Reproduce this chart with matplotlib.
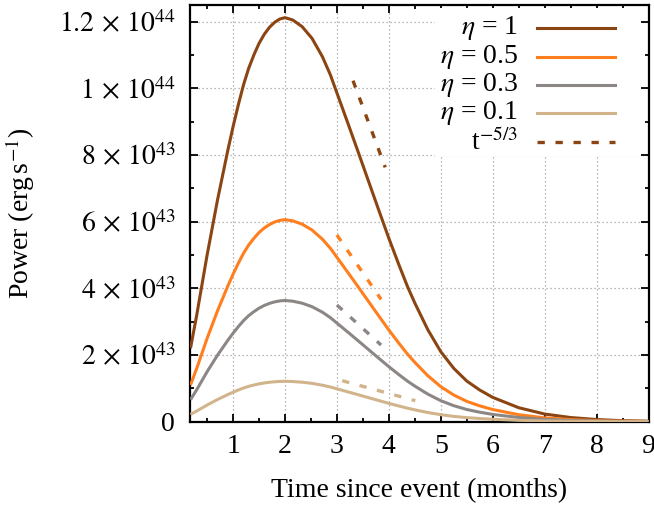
import matplotlib
matplotlib.use("Agg")
import matplotlib.pyplot as plt
from matplotlib.ticker import MultipleLocator, FixedLocator
from matplotlib.patches import Rectangle
from matplotlib.lines import Line2D

# ---- data ----
# time (months) and power for eta = 1 (erg/s)
time_months = [0.18, 0.3, 0.5, 0.7, 0.9, 1.0, 1.1, 1.2, 1.3, 1.4, 1.5, 1.6, 1.7, 1.8,
               1.9, 2.0, 2.15, 2.33, 2.52, 2.72, 2.875, 3.0, 3.2, 3.4, 3.6, 3.8, 4.0,
               4.2, 4.36, 4.5, 4.75, 5.0, 5.25, 5.5, 5.75, 6.0, 6.5, 7.0, 7.5, 8.0,
               8.5, 9.0]
power_eta1 = [2.2e43, 3.2e43, 5.0e43, 6.65e43, 8.15e43, 8.85e43, 9.5e43, 1.01e44,
              1.06e44, 1.10e44, 1.135e44, 1.162e44, 1.183e44, 1.198e44, 1.208e44,
              1.212e44, 1.205e44, 1.185e44, 1.15e44, 1.095e44, 1.04e44, 9.86e43,
              9.0e43, 8.13e43, 7.25e43, 6.37e43, 5.5e43, 4.68e43, 4.05e43, 3.56e43,
              2.76e43, 2.1e43, 1.6e43, 1.22e43, 0.95e43, 0.73e43, 0.42e43, 0.23e43,
              0.125e43, 0.065e43, 0.03e43, 0.015e43]
etas = [1, 0.5, 0.3, 0.1]
eta_labels = [r'$\eta$ = 1', r'$\eta$ = 0.5', r'$\eta$ = 0.3', r'$\eta$ = 0.1']
colors = ['#8b4513', '#ff7f1e', '#8c8784', '#d2b48c']

# t^{-5/3} guide segments (start/end points)
guide_t = [[3.31, 3.93], [3.0, 3.85], [3.0, 3.85], [3.10, 4.51]]
guide_p = [[1.023e44, 7.63e43], [5.6e43, 3.67e43], [3.5e43, 2.3e43], [1.23e43, 0.63e43]]
guide_label = r't$^{-5/3}$'

yticks = [0, 2e43, 4e43, 6e43, 8e43, 1e44, 1.2e44]
ytick_labels = ['0', r'$2\,\times\,10^{43}$', r'$4\,\times\,10^{43}$',
                r'$6\,\times\,10^{43}$', r'$8\,\times\,10^{43}$',
                r'$1\,\times\,10^{44}$', r'$1.2\,\times\,10^{44}$']
xticks = [1, 2, 3, 4, 5, 6, 7, 8, 9]

plt.rcParams['font.family'] = ['Liberation Serif', 'DejaVu Serif']
plt.rcParams['mathtext.fontset'] = 'stix'
FS = 20
DASH = (2.2, 3.2)

fig = plt.figure(figsize=(6.54, 5.08), dpi=100)
ax = fig.add_axes([190.5 / 654, 1 - 421.7 / 508, 458 / 654, 416.7 / 508])

for eta, col in zip(etas, colors):
    ax.plot(time_months, [eta * p for p in power_eta1], color=col, lw=2.2,
            solid_capstyle='butt', solid_joinstyle='round', zorder=3)
for t, p, col in zip(guide_t, guide_p, colors):
    ax.plot(t, p, color=col, lw=2.4, dashes=DASH, zorder=3)

ax.set_xlim(0.18, 9)
ax.set_ylim(0, 1.25e44)
ax.xaxis.set_major_locator(FixedLocator(xticks))
ax.xaxis.set_minor_locator(MultipleLocator(0.5))
ax.set_xticklabels([str(x) for x in xticks])
ax.yaxis.set_major_locator(FixedLocator(yticks))
ax.set_yticklabels(ytick_labels)
ax.yaxis.set_minor_locator(MultipleLocator(1e43))

ax.tick_params(which='both', direction='in', top=True, right=True, labelsize=FS,
               width=1.3)
ax.tick_params(which='major', length=6)
ax.tick_params(which='minor', length=3)
ax.tick_params(axis='x', pad=9)
ax.tick_params(axis='y', pad=11)
for s in ax.spines.values():
    s.set_linewidth(1.6)

ax.set_axisbelow(True)
ax.grid(True, which='major', color='#a0a0a0', linestyle=(0, (1, 2.2)), lw=0.9)

ax.set_xlabel('Time since event (months)', fontsize=FS)
ax.set_ylabel(r'Power (erg$\,$s$^{-1}$)', fontsize=FS)
ax.xaxis.set_label_coords(0.5, -0.135)
ax.yaxis.set_label_coords(-0.335, 0.5)

# legend box (gnuplot style: text right-aligned, sample on the right)
ax.add_patch(Rectangle((0.534, 0.638), 0.447, 0.355, transform=ax.transAxes,
                       facecolor='white', edgecolor='none', zorder=1.5))
rows_y = [0.944, 0.875, 0.808, 0.741, 0.671]
labels = eta_labels + [guide_label]
for i, (lab, yy) in enumerate(zip(labels, rows_y)):
    ax.text(0.715, yy, lab, transform=ax.transAxes, ha='right', va='center',
            fontsize=FS, zorder=4)
    if i < 4:
        ln = Line2D([0.757, 0.927], [yy, yy], transform=ax.transAxes, color=colors[i],
                    lw=2.2, zorder=4)
    else:
        ln = Line2D([0.757, 0.927], [yy, yy], transform=ax.transAxes, color=colors[0],
                    lw=2.4, dashes=DASH, zorder=4)
    ax.add_line(ln)

fig.savefig('out.png', dpi=100)
